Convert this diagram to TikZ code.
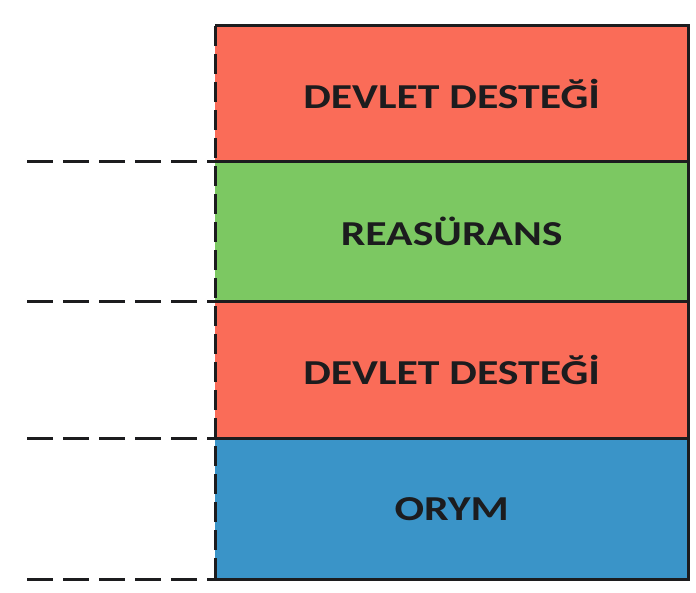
\documentclass[tikz,border=0pt]{standalone}
\usepackage{fontspec}
\setmainfont{Carlito}
\newfontfamily\bandfont[FakeStretch=1.25]{Carlito}
\usetikzlibrary{positioning}
\definecolor{destek}{RGB}{250,108,88}
\definecolor{reas}{RGB}{124,200,98}
\definecolor{orym}{RGB}{58,148,200}
\definecolor{ink}{RGB}{28,28,30}

\begin{document}
\begin{tikzpicture}[x=1pt,y=-1pt,line join=miter,
  band/.style={rectangle,minimum width=473pt,inner sep=0pt,text=ink,
    font=\bandfont\bfseries\fontsize{35}{38}\selectfont},
  level/.style={ink,line width=2.6pt,dash pattern=on 26pt off 10pt},
  frame/.style={ink,line width=3pt}]
\useasboundingbox (0,0) rectangle (696,593);
%%
\node[band,fill=destek,minimum height=135pt,anchor=north west] (band_1) at (215,26) {DEVLET DESTEĞİ};
\node[band,fill=reas,minimum height=140pt,below=0pt of band_1] (band_2) {REASÜRANS};
\node[band,fill=destek,minimum height=136pt,below=0pt of band_2] (band_3) {DEVLET DESTEĞİ};
\node[band,fill=orym,minimum height=141pt,below=0pt of band_3] (band_4) {ORYM};
%
\draw[frame] (band_1.north west) -- (band_1.north east) -- (band_4.south east) -- (band_4.south west);
\draw[frame] (band_1.south west) -- (band_1.south east);
\draw[frame] (band_2.south west) -- (band_2.south east);
\draw[frame] (band_3.south west) -- (band_3.south east);
\draw[frame,dash pattern=on 20pt off 8pt] (band_1.north west) -- (band_4.south west);
%
\coordinate (tick_1) at ([xshift=-188pt]band_1.south west);
\coordinate (tick_2) at ([xshift=-188pt]band_2.south west);
\coordinate (tick_3) at ([xshift=-188pt]band_3.south west);
\coordinate (tick_4) at ([xshift=-188pt]band_4.south west);
\draw[level] (tick_1) -- (band_1.south west);
\draw[level] (tick_2) -- (band_2.south west);
\draw[level] (tick_3) -- (band_3.south west);
\draw[level] (tick_4) -- (band_4.south west);
%
\end{tikzpicture}
\end{document}
